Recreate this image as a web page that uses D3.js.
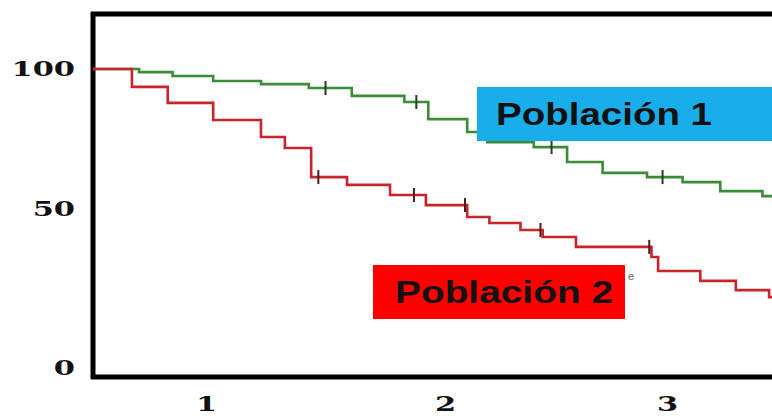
<!DOCTYPE html>
<meta charset="utf-8">

<!-- Load d3.js -->
<script src="https://d3js.org/d3.v7.min.js"></script>

<style>
  body { margin: 0; background: #fff; }
  svg { display: block; }
</style>

<div id="km"></div>

<script>

  // tick labels
  const xTicks = [1, 2, 3];
  const yTicks = [0, 50, 100];

  // Población 1 (green): step times and survival (%) after each step
  const times1 = [0.72, 0.86, 1.03, 1.23, 1.43, 1.61, 1.83, 1.93, 2.10, 2.19, 2.40, 2.55, 2.71, 2.91, 3.07, 3.24, 3.43];
  const surv1  = [98.9, 97.5, 95.7, 94.6, 93.2, 90.4, 88.2, 82.1, 77.5, 73.9, 72.1, 66.8, 62.9, 61.4, 59.6, 56.4, 54.6];
  const censor1 = [1.50, 1.88, 2.48, 2.98];

  // Población 2 (red)
  const times2 = [0.69, 0.84, 1.03, 1.23, 1.33, 1.44, 1.59, 1.77, 1.92, 2.10, 2.20, 2.34, 2.44, 2.59, 2.93, 2.96, 3.15, 3.31, 3.46];
  const surv2  = [93.6, 87.9, 81.8, 75.7, 71.8, 61.4, 58.6, 55.0, 51.4, 47.5, 45.6, 43.4, 41.2, 38.1, 34.9, 30.5, 27.4, 24.5, 22.3];
  const censor2 = [1.47, 1.87, 2.09, 2.43, 2.92];

  const labels = ["Población 1", "Población 2"];

  const width = 772, height = 416;
  const tStart = 0.527, tEnd = 3.48;

  const svg = d3.select("#km")
    .append("svg")
      .attr("width", width)
      .attr("height", height);

  // the picture is a bit stretched, so piecewise scales
  const x = d3.scaleLinear()
    .domain([1, 2, 3])
    .range([206, 445, 667]);

  const y = d3.scaleLinear()
    .domain([0, 50, 100])
    .range([368, 209, 69]);

  // frame: left, top and bottom thick lines
  const frame = svg.append("g")
    .attr("stroke", "#000")
    .attr("stroke-width", 5);
  frame.append("line").attr("x1", 93).attr("x2", 93).attr("y1", 12).attr("y2", 379);
  frame.append("line").attr("x1", 91).attr("x2", width).attr("y1", 14).attr("y2", 14);
  frame.append("line").attr("x1", 91).attr("x2", width).attr("y1", 377).attr("y2", 377);

  const sx = 1.45; // wide serif digits

  // Y axis labels
  const yAxis = svg.append("g")
    .attr("transform", "translate(93,0)")
    .call(d3.axisLeft(y).tickValues(yTicks).tickSize(0));
  yAxis.select(".domain").remove();
  yAxis.selectAll("text")
    .attr("font-family", "DejaVu Serif")
    .attr("font-weight", "bold")
    .attr("font-size", 21)
    .attr("fill", "#111")
    .attr("x", -18 / sx)
    .attr("dy", "0.3em")
    .attr("transform", `scale(${sx},1)`);

  // X axis labels
  const xAxis = svg.append("g")
    .attr("transform", "translate(0,377)")
    .call(d3.axisBottom(x).tickValues(xTicks).tickSize(0).tickFormat(d3.format("d")));
  xAxis.select(".domain").remove();
  xAxis.selectAll("text")
    .attr("font-family", "DejaVu Serif")
    .attr("font-weight", "bold")
    .attr("font-size", 21)
    .attr("fill", "#111")
    .attr("x", 0)
    .attr("y", 34)
    .attr("dy", 0)
    .attr("transform", `scale(${sx},1)`);

  const line = d3.line()
    .x(d => x(d[0]))
    .y(d => y(d[1]))
    .curve(d3.curveStepAfter);

  function stepData(times, surv) {
    const pts = [[tStart, 100]];
    times.forEach((t, i) => pts.push([t, surv[i]]));
    pts.push([tEnd, surv[surv.length - 1]]);
    return pts;
  }

  // survival at time t (for placing censor marks)
  function survAt(times, surv, t) {
    let s = 100;
    times.forEach((tt, i) => { if (tt <= t) s = surv[i]; });
    return s;
  }

  const curves = [
    {times: times1, surv: surv1, censor: censor1, color: "#3b8c37", tick: "#263d22"},
    {times: times2, surv: surv2, censor: censor2, color: "#c7252b", tick: "#4a1c1c"}
  ];

  curves.forEach(c => {
    svg.append("path")
      .datum(stepData(c.times, c.surv))
      .attr("fill", "none")
      .attr("stroke", c.color)
      .attr("stroke-width", 2.6)
      .attr("d", line);

    svg.selectAll(null)
      .data(c.censor)
      .join("line")
        .attr("x1", d => x(d))
        .attr("x2", d => x(d))
        .attr("y1", d => y(survAt(c.times, c.surv, d)) - 7)
        .attr("y2", d => y(survAt(c.times, c.surv, d)) + 7)
        .attr("stroke", c.tick)
        .attr("stroke-width", 2);
  });

  // label boxes
  svg.append("rect")
    .attr("x", 477).attr("y", 87)
    .attr("width", width - 477).attr("height", 54)
    .attr("fill", "#19aeea");
  svg.append("text")
    .attr("x", 496).attr("y", 125)
    .attr("font-family", "Liberation Sans, Arial, sans-serif")
    .attr("font-weight", "bold")
    .attr("font-size", 32)
    .attr("textLength", 216)
    .attr("lengthAdjust", "spacingAndGlyphs")
    .attr("fill", "#111")
    .text(labels[0]);

  svg.append("rect")
    .attr("x", 373).attr("y", 265)
    .attr("width", 252).attr("height", 54)
    .attr("fill", "#fe0000");
  svg.append("text")
    .attr("x", 395).attr("y", 303)
    .attr("font-family", "Liberation Sans, Arial, sans-serif")
    .attr("font-weight", "bold")
    .attr("font-size", 32)
    .attr("textLength", 218)
    .attr("lengthAdjust", "spacingAndGlyphs")
    .attr("fill", "#111")
    .text(labels[1]);

  // small stray mark next to the red box
  svg.append("text")
    .attr("x", 628).attr("y", 280)
    .attr("font-family", "Liberation Sans, Arial, sans-serif")
    .attr("font-size", 11)
    .attr("fill", "#666")
    .text("e");

</script>
